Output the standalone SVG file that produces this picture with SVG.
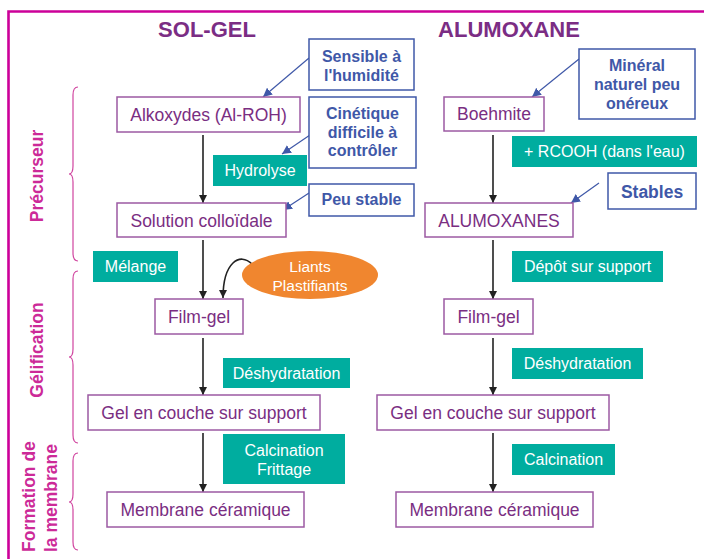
<svg xmlns="http://www.w3.org/2000/svg" width="704" height="559" viewBox="0 0 704 559">
<defs>
<style>
text{font-family:"Liberation Sans",Arial,sans-serif}
.title{font-size:22px;font-weight:bold;fill:#7b2d84;text-anchor:middle}
.node rect{fill:#fff;stroke:#9c5aa3;stroke-width:1.5}
.node text{font-size:17.5px;fill:#7a2e82;text-anchor:middle}
.step rect{fill:#00ad9f}
.step text{font-size:16px;fill:#fff;text-anchor:middle}
.note rect{fill:#fff;stroke:#3f58a8;stroke-width:1.5}
.note text{font-size:16px;font-weight:bold;fill:#3f58a8;text-anchor:middle}
.side{font-size:17.5px;font-weight:bold;fill:#cc2a98}
.brace{fill:none;stroke:#d0449f;stroke-width:1.2}
.flow{stroke:#222;stroke-width:1.6;fill:none}
.ann{stroke:#3f58a8;stroke-width:1.2;fill:none}
</style>
<marker id="ab" viewBox="0 0 10 10" refX="10" refY="5" markerWidth="8" markerHeight="8" markerUnits="userSpaceOnUse" orient="auto"><path d="M0,0 L10,5 L0,10 z" fill="#222"/></marker>
<marker id="bl" viewBox="0 0 10 10" refX="10" refY="5" markerWidth="9" markerHeight="9" markerUnits="userSpaceOnUse" orient="auto"><path d="M0,0 L10,5 L0,10 z" fill="#3f58a8"/></marker>
</defs>
<rect width="704" height="559" fill="#fff"/>
<path d="M8.5,559 V11.5 H704" fill="none" stroke="#cc0099" stroke-width="2.6"/>
<text class="title" x="207" y="37">SOL-GEL</text>
<text class="title" x="509" y="37">ALUMOXANE</text>

<g id="side-labels">
<path class="brace" d="M78,87 Q73,87 73,95 V166 Q73,174 69,174 Q73,174 73,182 V253 Q73,261 78,261"/>
<path class="brace" d="M78,271 Q73,271 73,279 V349 Q73,357 69,357 Q73,357 73,365 V435 Q73,443 78,443"/>
<path class="brace" d="M78,453 Q73,453 73,461 V494 Q73,502 69,502 Q73,502 73,510 V542 Q73,550 78,550"/>
<text class="side" transform="translate(43,176) rotate(-90)" text-anchor="middle">Précurseur</text>
<text class="side" transform="translate(43,350) rotate(-90)" text-anchor="middle">Gélification</text>
<text class="side" transform="translate(35,552) rotate(-90)">Formation de</text>
<text class="side" transform="translate(57,552) rotate(-90)">la membrane</text>
</g>

<g id="connectors">
<line class="flow" x1="203" y1="135" x2="203" y2="203" marker-end="url(#ab)"/>
<line class="flow" x1="203" y1="240" x2="203" y2="299" marker-end="url(#ab)"/>
<line class="flow" x1="203" y1="338" x2="203" y2="395" marker-end="url(#ab)"/>
<line class="flow" x1="203" y1="433" x2="203" y2="492" marker-end="url(#ab)"/>
<line class="flow" x1="493" y1="135" x2="493" y2="203" marker-end="url(#ab)"/>
<line class="flow" x1="493" y1="240" x2="493" y2="299" marker-end="url(#ab)"/>
<line class="flow" x1="493" y1="338" x2="493" y2="395" marker-end="url(#ab)"/>
<line class="flow" x1="493" y1="433" x2="493" y2="492" marker-end="url(#ab)"/>
<path class="flow" d="M252,264 C240,252 223,262 223,298" marker-end="url(#ab)"/>
<line class="ann" x1="309" y1="58" x2="263" y2="97" marker-end="url(#bl)"/>
<line class="ann" x1="310" y1="135" x2="282" y2="154" marker-end="url(#bl)"/>
<line class="ann" x1="309" y1="193" x2="283" y2="210" marker-end="url(#bl)"/>
<line class="ann" x1="579" y1="59" x2="532" y2="97" marker-end="url(#bl)"/>
<line class="ann" x1="599" y1="183" x2="571" y2="203" marker-end="url(#bl)"/>
</g>

<g id="n-alkoxydes" class="node"><rect x="117" y="97" width="183" height="35"/><text x="208.5" y="120.5">Alkoxydes (Al-ROH)</text></g>
<g id="n-solution" class="node"><rect x="117" y="203" width="169" height="34"/><text x="201.5" y="226.5">Solution colloïdale</text></g>
<g id="n-filmgel-l" class="node"><rect x="155" y="299" width="88" height="35"/><text x="199" y="322.5">Film-gel</text></g>
<g id="n-gel-l" class="node"><rect x="88" y="395" width="232" height="35"/><text x="204" y="418.5">Gel en couche sur support</text></g>
<g id="n-membrane-l" class="node"><rect x="107" y="492" width="197" height="35"/><text x="205.5" y="515.5">Membrane céramique</text></g>

<g id="n-boehmite" class="node"><rect x="444" y="97" width="100" height="34"/><text x="494" y="120">Boehmite</text></g>
<g id="n-alumoxanes" class="node"><rect x="425" y="203" width="148" height="34"/><text x="499" y="226.5">ALUMOXANES</text></g>
<g id="n-filmgel-r" class="node"><rect x="444" y="299" width="89" height="35"/><text x="488.5" y="322.5">Film-gel</text></g>
<g id="n-gel-r" class="node"><rect x="377" y="395" width="232" height="35"/><text x="493" y="418.5">Gel en couche sur support</text></g>
<g id="n-membrane-r" class="node"><rect x="396" y="492" width="197" height="35"/><text x="494.5" y="515.5">Membrane céramique</text></g>

<g id="s-hydrolyse" class="step"><rect x="213" y="155" width="94" height="31"/><text x="260" y="176">Hydrolyse</text></g>
<g id="s-melange" class="step"><rect x="93" y="251" width="85" height="31"/><text x="135.5" y="272">Mélange</text></g>
<g id="s-deshyd-l" class="step"><rect x="223" y="358" width="127" height="30"/><text x="286.5" y="378.5">Déshydratation</text></g>
<g id="s-calc-l" class="step"><rect x="223" y="434" width="122" height="50"/><text x="284" y="456">Calcination</text><text x="284" y="475">Frittage</text></g>
<g id="s-rcooh" class="step"><rect x="512" y="136" width="185" height="31"/><text x="604.5" y="157">+ RCOOH (dans l'eau)</text></g>
<g id="s-depot" class="step"><rect x="512" y="251" width="151" height="31"/><text x="587.5" y="272">Dépôt sur support</text></g>
<g id="s-deshyd-r" class="step"><rect x="512" y="348" width="131" height="31"/><text x="577.5" y="369">Déshydratation</text></g>
<g id="s-calc-r" class="step"><rect x="512" y="444" width="103" height="31"/><text x="563.5" y="465">Calcination</text></g>

<g id="e-liants"><ellipse cx="310" cy="275" rx="68" ry="24" fill="#f0862f"/><text x="310" y="272" font-size="15.5" fill="#fff" text-anchor="middle">Liants</text><text x="310" y="291" font-size="15.5" fill="#fff" text-anchor="middle">Plastifiants</text></g>

<g id="c-sensible" class="note"><rect x="309" y="39" width="105" height="51"/><text x="361.5" y="62">Sensible à</text><text x="361.5" y="81">l'humidité</text></g>
<g id="c-cinetique" class="note"><rect x="309" y="97" width="107" height="71"/><text x="362.5" y="119">Cinétique</text><text x="362.5" y="138">difficile à</text><text x="362.5" y="156">contrôler</text></g>
<g id="c-peustable" class="note"><rect x="309" y="184" width="105" height="32"/><text x="361.5" y="205">Peu stable</text></g>
<g id="c-mineral" class="note"><rect x="579" y="49" width="116" height="70"/><text x="637" y="71">Minéral</text><text x="637" y="90">naturel peu</text><text x="637" y="109">onéreux</text></g>
<g id="c-stables" class="note"><rect x="608" y="173" width="88" height="36"/><text x="652" y="198" style="font-size:17.5px">Stables</text></g>
</svg>
